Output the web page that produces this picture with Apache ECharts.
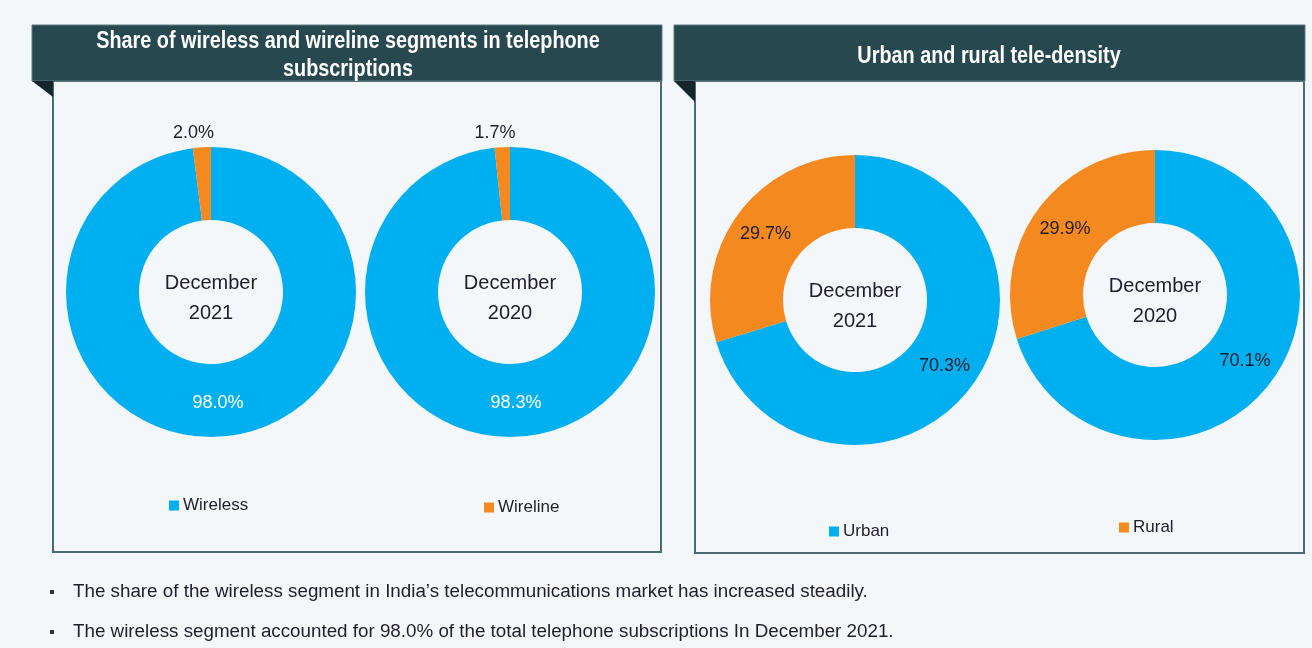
<!DOCTYPE html>
<html>
<head>
<meta charset="utf-8">
<script src="https://cdn.jsdelivr.net/npm/echarts@6/dist/echarts.min.js"></script>
<style>
html,body{margin:0;padding:0;background:#f4f7f9;}
#chart{width:1312px;height:648px;}
</style>
</head>
<body>
<div id="chart"></div>
<script>
// ---- data ----
const segmentCategories = ['Wireless', 'Wireline'];
const segmentDec2021 = [98.0, 2.0];
const segmentDec2020 = [98.3, 1.7];
const densityCategories = ['Urban', 'Rural'];
const densityDec2021 = [70.3, 29.7];
const densityDec2020 = [70.1, 29.9];
const periodLabels = ['December\n2021', 'December\n2020', 'December\n2021', 'December\n2020'];
const panelTitles = ['Share of wireless and wireline segments in telephone\nsubscriptions', 'Urban and rural tele-density'];
const bulletTexts = [
  'The share of the wireless segment in India\u2019s telecommunications market has increased steadily.',
  'The wireless segment accounted for 98.0% of the total telephone subscriptions In December 2021.'
];

// ---- style ----
const BLUE = '#00afef';
const ORANGE = '#f4891f';
const DARK = '#1e1e2c';
const HEADER = '#284850';
const CORNER = '#15262b';
const BORDER = '#4e6a72';
const FONT = '"Liberation Sans", Arial, sans-serif';

const pieCenters = [[211, 292], [510, 292], [855, 300], [1155, 295]];
const radius = [72, 145];

function fmt(p) { return p.value.toFixed(1) + '%'; }

function segData(vals) {
  return segmentCategories.map((n, i) => ({
    name: n, value: vals[i],
    itemStyle: { color: i === 0 ? BLUE : ORANGE },
    label: i === 0
      ? { position: 'inside', color: '#ffffff' }
      : { position: 'outside', color: DARK }
  }));
}
function densData(vals) {
  return densityCategories.map((n, i) => ({
    name: n, value: vals[i],
    itemStyle: { color: i === 0 ? BLUE : ORANGE },
    label: { position: 'inside', color: DARK }
  }));
}

function pie(center, data, outsideShift) {
  const s = {
    type: 'pie', center: center, radius: radius, startAngle: 90, clockwise: true,
    avoidLabelOverlap: false,
    label: { show: true, formatter: fmt, fontFamily: FONT, fontSize: 18 },
    labelLine: { show: false, length: 14, length2: 0 },
    emphasis: { scale: false },
    data: data
  };
  if (outsideShift) {
    s.labelLayout = function (p) { return p.dataIndex === 1 ? { dx: outsideShift } : {}; };
  }
  return s;
}

const series = [
  pie(pieCenters[0], segData(segmentDec2021), 18),
  pie(pieCenters[1], segData(segmentDec2020), 19),
  pie(pieCenters[2], densData(densityDec2021)),
  pie(pieCenters[3], densData(densityDec2020))
];

// ---- decorations ----
const graphics = [];
function panel(hx0, hx1, bx0, bx1, y0, yh, yb, tri) {
  graphics.push({ type: 'rect', shape: { x: bx0, y: yh, width: bx1 - bx0, height: yb - yh }, style: { fill: 'none', stroke: BORDER, lineWidth: 2 }, z: 1 });
  graphics.push({ type: 'rect', shape: { x: hx0, y: y0, width: hx1 - hx0, height: yh - y0 }, style: { fill: HEADER, stroke: '#5d7b83', lineWidth: 1 }, z: 2 });
  graphics.push({ type: 'polygon', shape: { points: [[hx0, yh], [bx0, yh], [bx0, yh + tri]] }, style: { fill: CORNER }, z: 2 });
}
panel(32, 662, 53, 661, 25, 81, 552, 16);
panel(674, 1305, 695, 1304, 25, 81, 553, 21);

graphics.push({ type: 'text', x: 348, y: 56, scaleX: 0.862, style: { text: panelTitles[0], font: 'bold 23px ' + FONT, fill: '#ffffff', align: 'center', verticalAlign: 'middle', lineHeight: 28 }, z: 3 });
graphics.push({ type: 'text', x: 989, y: 57, scaleX: 0.862, style: { text: panelTitles[1], font: 'bold 23px ' + FONT, fill: '#ffffff', align: 'center', verticalAlign: 'middle', lineHeight: 28 }, z: 3 });

periodLabels.forEach((t, i) => {
  graphics.push({ type: 'text', x: pieCenters[i][0], y: pieCenters[i][1] + 6, style: { text: t, font: '20px ' + FONT, fill: DARK, align: 'center', verticalAlign: 'middle', lineHeight: 30 }, z: 3 });
});

bulletTexts.forEach((t, i) => {
  const y = 592 + i * 40;
  graphics.push({ type: 'rect', shape: { x: 50, y: y - 2, width: 4, height: 4 }, style: { fill: '#333' } });
  graphics.push({ type: 'text', x: 73, y: y, style: { text: t, font: '18.8px ' + FONT, fill: DARK, align: 'left', verticalAlign: 'middle' } });
});

function legendItem(name, left, top) {
  return {
    data: [name], left: left, top: top, padding: 0, itemWidth: 10, itemHeight: 10, itemGap: 0,
    icon: 'rect', textStyle: { fontFamily: FONT, fontSize: 17, color: DARK, padding: [0, 0, 0, -1] },
    selectedMode: false
  };
}

const chart = echarts.init(document.getElementById('chart'), null, { renderer: 'canvas' });
chart.setOption({
  backgroundColor: '#f4f7f9',
  animation: false,
  legend: [
    legendItem('Wireless', 169, 497),
    legendItem('Wireline', 484, 499),
    legendItem('Urban', 829, 523),
    legendItem('Rural', 1119, 519)
  ],
  graphic: graphics,
  series: series
});
</script>
</body>
</html>
